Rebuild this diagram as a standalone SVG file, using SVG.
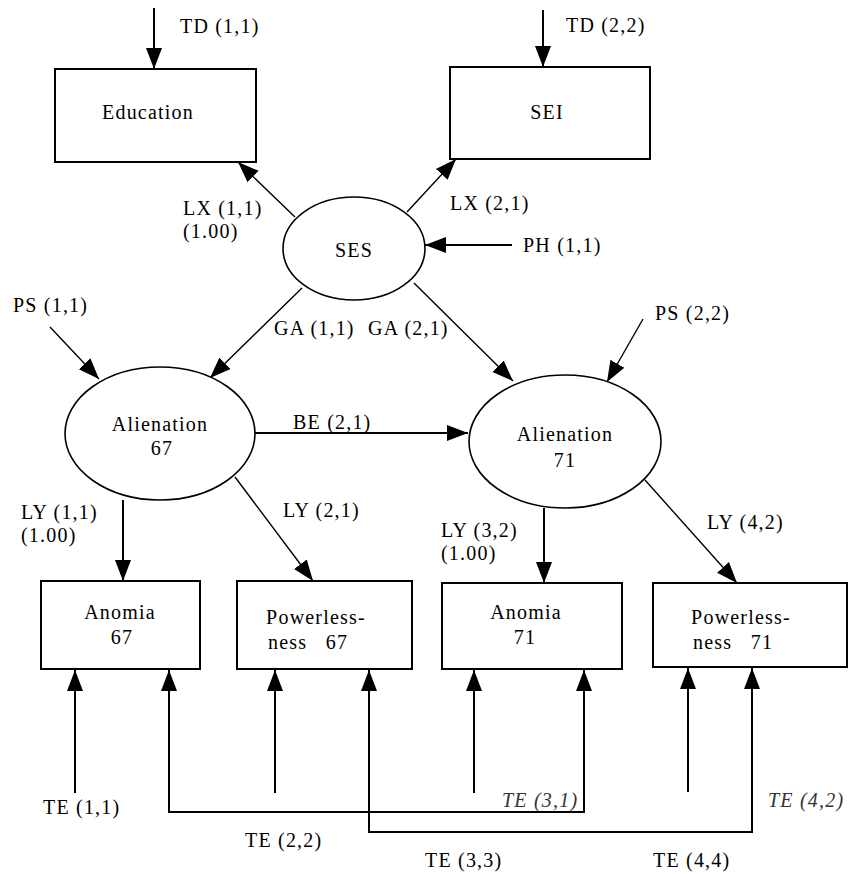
<svg xmlns="http://www.w3.org/2000/svg" width="849" height="874" viewBox="0 0 849 874">
  <style>
    text { font-family: "Liberation Serif", "Times New Roman", serif; font-size: 20px; fill: #000; letter-spacing: 1.2px; }
    .c { text-anchor: middle; }
    .it { font-style: italic; fill: #333; }
    .box { fill: #fff; stroke: #000; stroke-width: 2; }
    .lat { fill: #fff; stroke: #000; stroke-width: 1.6; }
    .edge { fill: none; stroke: #000; stroke-width: 1.4; marker-end: url(#head); }
    .thick { stroke-width: 2; }
    .plain { fill: none; stroke: #000; stroke-width: 2; }
  </style>
  <defs>
    <marker id="head" markerUnits="userSpaceOnUse" markerWidth="22" markerHeight="18" refX="21" refY="9" orient="auto">
      <path d="M0,1 L21,9 L0,17 z" fill="#000"/>
    </marker>
  </defs>

  <g id="connectors">
    <!-- error terms on the x-indicators -->
    <line class="edge thick" x1="154" y1="8" x2="154" y2="69"/>
    <line class="edge thick" x1="543" y1="10" x2="543" y2="67"/>
    <!-- loadings of SES -->
    <line class="edge" x1="295" y1="217" x2="238" y2="162"/>
    <line class="edge" x1="407" y1="212" x2="456" y2="159"/>
    <line class="edge thick" x1="512" y1="245" x2="425" y2="245"/>
    <!-- structural paths -->
    <line class="edge" x1="50" y1="327" x2="99" y2="379"/>
    <line class="edge" x1="302" y1="288" x2="210" y2="378"/>
    <line class="edge" x1="414" y1="283" x2="513" y2="381"/>
    <line class="edge" x1="643" y1="319" x2="607" y2="382"/>
    <line class="edge thick" x1="255" y1="433" x2="468" y2="433"/>
    <!-- loadings of the alienation factors -->
    <line class="edge thick" x1="123" y1="500" x2="123" y2="581"/>
    <line class="edge" x1="235" y1="477" x2="313" y2="581"/>
    <line class="edge thick" x1="544" y1="508" x2="544" y2="583"/>
    <line class="edge" x1="645" y1="480" x2="737" y2="583"/>
    <!-- measurement errors of the y-indicators -->
    <line class="edge thick" x1="75" y1="793" x2="75" y2="670"/>
    <line class="edge thick" x1="275" y1="793" x2="275" y2="670"/>
    <line class="edge thick" x1="474" y1="793" x2="474" y2="670"/>
    <line class="edge thick" x1="688" y1="792" x2="688" y2="668"/>
    <!-- correlated errors over time -->
    <polyline class="plain" points="169,812 584,812"/>
    <line class="edge thick" x1="169" y1="813" x2="169" y2="670"/>
    <line class="edge thick" x1="584" y1="813" x2="584" y2="670"/>
    <polyline class="plain" points="369,832 752,832"/>
    <line class="edge thick" x1="369" y1="833" x2="369" y2="670"/>
    <line class="edge thick" x1="752" y1="833" x2="752" y2="668"/>
  </g>

  <g id="education">
    <rect class="box" x="55" y="69" width="201" height="93"/>
    <text class="c" x="148" y="119">Education</text>
  </g>
  <g id="sei">
    <rect class="box" x="450" y="67" width="200" height="92"/>
    <text class="c" x="547" y="119">SEI</text>
  </g>
  <g id="ses">
    <ellipse class="lat" cx="354" cy="248.5" rx="71" ry="51.5"/>
    <text class="c" x="354" y="257">SES</text>
  </g>
  <g id="alienation67">
    <ellipse class="lat" cx="160" cy="433.5" rx="95" ry="66.5"/>
    <text class="c" x="160" y="431">Alienation</text>
    <text class="c" x="162" y="455">67</text>
  </g>
  <g id="alienation71">
    <ellipse class="lat" cx="565" cy="441.5" rx="96" ry="66.5"/>
    <text class="c" x="565" y="441">Alienation</text>
    <text class="c" x="565" y="467">71</text>
  </g>
  <g id="anomia67">
    <rect class="box" x="41" y="581" width="159" height="88"/>
    <text class="c" x="120" y="619">Anomia</text>
    <text class="c" x="122" y="644">67</text>
  </g>
  <g id="powerlessness67">
    <rect class="box" x="237" y="581" width="175" height="88"/>
    <text class="c" x="316" y="624">Powerless-</text>
    <text x="268" y="649" xml:space="preserve">ness   67</text>
  </g>
  <g id="anomia71">
    <rect class="box" x="442" y="583" width="180" height="86"/>
    <text class="c" x="526" y="619">Anomia</text>
    <text class="c" x="525" y="644">71</text>
  </g>
  <g id="powerlessness71">
    <rect class="box" x="653" y="583" width="194" height="84"/>
    <text class="c" x="741" y="624">Powerless-</text>
    <text x="693" y="649" xml:space="preserve">ness   71</text>
  </g>

  <g id="labels">
    <text x="180" y="33">TD (1,1)</text>
    <text x="566" y="32">TD (2,2)</text>
    <text x="183" y="215">LX (1,1)</text>
    <text x="183" y="238">(1.00)</text>
    <text x="450" y="210">LX (2,1)</text>
    <text x="523" y="252">PH (1,1)</text>
    <text x="13" y="312">PS (1,1)</text>
    <text x="274" y="335">GA (1,1)</text>
    <text x="368" y="335">GA (2,1)</text>
    <text x="655" y="320">PS (2,2)</text>
    <text x="293" y="429">BE (2,1)</text>
    <text x="21" y="519">LY (1,1)</text>
    <text x="21" y="542">(1.00)</text>
    <text x="283" y="517">LY (2,1)</text>
    <text x="441" y="537">LY (3,2)</text>
    <text x="441" y="560">(1.00)</text>
    <text x="707" y="529">LY (4,2)</text>
    <text x="43" y="814">TE (1,1)</text>
    <text x="245" y="847">TE (2,2)</text>
    <text x="425" y="867">TE (3,3)</text>
    <text x="653" y="867">TE (4,4)</text>
    <text class="it" x="502" y="807">TE (3,1)</text>
    <text class="it" x="768" y="807">TE (4,2)</text>
  </g>
</svg>
